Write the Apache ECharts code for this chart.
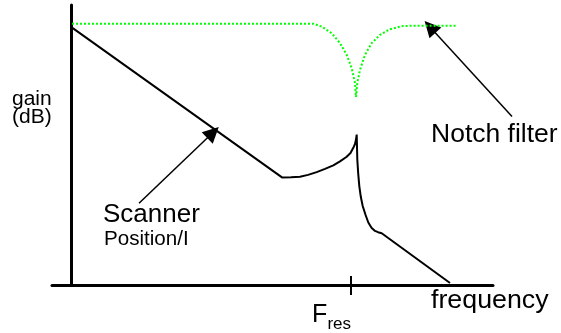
<!DOCTYPE html>
<html>
<head>
<meta charset="utf-8">
<script src="https://cdn.jsdelivr.net/npm/echarts@6/dist/echarts.min.js"></script>
<style>
html,body{margin:0;padding:0;background:#fff;}
#chart{width:561px;height:333px;}
</style>
</head>
<body>
<div id="chart"></div>
<script>
// Scanner Position/I response (schematic, arbitrary units)
const scannerFreq = [0, 211, 220, 229, 237, 245.7, 254, 262.3, 269, 275.7, 279.5, 282.3, 284, 285, 285.7, 286.3, 287.2, 288.3, 289.8, 291.7, 294.5, 297.3, 300.5, 304, 307, 310.7, 379];
const scannerGain = [259, 108, 108.2, 108.7, 110.5, 113.3, 116.5, 120, 124, 128.7, 132.5, 137.7, 141.5, 146, 151, 126, 112, 99.3, 88.5, 79.3, 70.5, 62.7, 57.5, 54.3, 53, 52, 2];
// Notch filter response
const notchFreq = [1, 242.3, 250.7, 260.7, 269, 275.7, 280.7, 284, 285, 286.3, 289, 294, 300.7, 309, 319, 332.3, 359, 385.7];
const notchGain = [262.3, 262.3, 259.3, 252.7, 242.7, 231, 217.7, 202.7, 188.7, 202.7, 216, 231, 242.7, 251, 256.7, 260, 260.3, 260.3];
// Tick on frequency axis
const tickValues = [280];
const tickLabels = ['F_res'];
// Annotation arrows [from, to]
const scannerArrow = [[68, 82], [142, 153]];
const notchArrow = [[441, 169], [359, 259]];
// Text labels
const yTitle = ['gain', '(dB)'];
const xTitle = 'frequency';
const notchLabel = 'Notch filter';
const scannerLabel = ['Scanner', 'Position/I'];

const FONT = '"Liberation Sans", Arial, sans-serif';
const pair = (xs, ys) => xs.map((x, i) => [x, ys[i]]);

const chart = echarts.init(document.getElementById('chart'), null, {renderer: 'canvas'});

function txt(text, x, baseline, size, sx) {
  return {
    type: 'text', x: x, y: baseline - 0.35 * size, scaleX: sx, scaleY: 1,
    style: {text: text, font: size + 'px ' + FONT, fill: '#000', align: 'left', verticalAlign: 'middle'},
    silent: true
  };
}

const option = {
  animation: false,
  backgroundColor: '#fff',
  grid: {left: 52, right: 68, top: 5, bottom: 47},
  xAxis: [{
    type: 'value', min: -19, max: 422, position: 'bottom',
    axisLine: {show: true, onZero: true, lineStyle: {color: '#000', width: 3}},
    splitLine: {show: false},
    axisTick: {show: true, customValues: tickValues, length: 10, inside: false, lineStyle: {color: '#000', width: 2}},
    axisLabel: {
      show: true, customValues: tickValues, margin: 18, align: 'right', verticalAlign: 'top',
      formatter: (v) => {
        const l = tickLabels[tickValues.indexOf(v)] || '';
        const p = l.split('_');
        return '{b|' + p[0] + '}{s|' + (p[1] || '') + '}';
      },
      rich: {
        b: {fontSize: 25, fontFamily: FONT, color: '#000', verticalAlign: 'bottom'},
        s: {fontSize: 17, fontFamily: FONT, color: '#000', verticalAlign: 'bottom', padding: [0, 0, -5, 0]}
      }
    }
  }, {
    type: 'value', min: -19, max: 422, position: 'bottom',
    axisLine: {show: false}, splitLine: {show: false}, axisLabel: {show: false},
    axisTick: {show: true, customValues: tickValues, length: 9, inside: true, lineStyle: {color: '#000', width: 2}}
  }],
  yAxis: {
    type: 'value', min: 0, max: 281,
    axisLine: {show: true, onZero: true, lineStyle: {color: '#000', width: 3}},
    axisTick: {show: false}, axisLabel: {show: false}, splitLine: {show: false}
  },
  series: [{
    type: 'line', data: pair(scannerFreq, scannerGain), showSymbol: false, symbol: 'none',
    lineStyle: {color: '#000', width: 2}, silent: true
  }, {
    type: 'line', data: pair(notchFreq, notchGain), showSymbol: false, symbol: 'none',
    lineStyle: {color: '#00ff00', width: 2, type: [2, 2]}, silent: true
  }, {
    type: 'lines', coordinateSystem: 'cartesian2d', clip: false, silent: true,
    symbol: ['none', 'triangle'], symbolSize: [12, 16],
    lineStyle: {color: '#000', width: 1.5, opacity: 1, curveness: 0},
    data: [{coords: scannerArrow}, {coords: notchArrow}]
  }],
  graphic: [
    txt(yTitle[0], 12, 106, 20, 1.05),
    txt(yTitle[1], 12, 124, 20, 1.05),
    txt(notchLabel, 431, 144, 25, 1.06),
    txt(scannerLabel[0], 103, 224, 25, 1.04),
    txt(scannerLabel[1], 104, 246, 20, 1.03),
    txt(xTitle, 431, 310, 26, 1.03)
  ]
};
chart.setOption(option);
</script>
</body>
</html>
